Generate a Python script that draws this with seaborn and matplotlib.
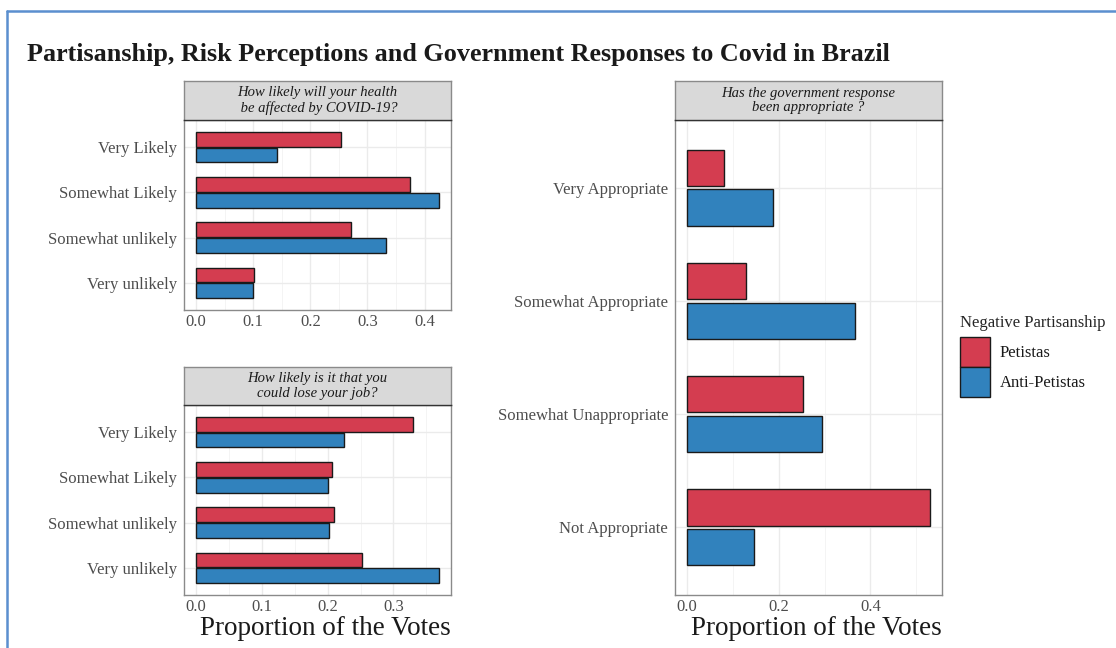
import pandas as pd
import seaborn as sns
import matplotlib.pyplot as plt
from matplotlib.patches import Patch
from matplotlib.lines import Line2D
from matplotlib.ticker import MultipleLocator

# data
groups = ["Petistas", "Anti-Petistas"]

health_levels = ["Very Likely", "Somewhat Likely", "Somewhat unlikely", "Very unlikely"]
health_petistas = [0.253, 0.374, 0.272, 0.102]
health_anti = [0.142, 0.425, 0.332, 0.100]

job_levels = ["Very Likely", "Somewhat Likely", "Somewhat unlikely", "Very unlikely"]
job_petistas = [0.329, 0.207, 0.209, 0.252]
job_anti = [0.225, 0.201, 0.202, 0.369]

gov_levels = ["Very Appropriate", "Somewhat Appropriate", "Somewhat Unappropriate", "Not Appropriate"]
gov_petistas = [0.081, 0.129, 0.254, 0.530]
gov_anti = [0.188, 0.367, 0.295, 0.145]

palette = {"Petistas": "#D43D50", "Anti-Petistas": "#3182BD"}


def make_df(levels, pet, anti):
    rows = []
    for lev, p, a in zip(levels, pet, anti):
        rows.append({"Answer": lev, "Group": "Petistas", "Proportion": p})
        rows.append({"Answer": lev, "Group": "Anti-Petistas", "Proportion": a})
    return pd.DataFrame(rows)


sns.set_style("white")
plt.rcParams["font.family"] = ["Liberation Serif", "DejaVu Serif"]

W, H = 1116, 648
fig = plt.figure(figsize=(W / 100, H / 100), dpi=100)


def box(x0, y0, x1, y1):
    return [x0 / W, 1 - y1 / H, (x1 - x0) / W, (y1 - y0) / H]


def panel(rect, strip_rect, df, levels, strip_text, step, xlabel):
    ax = fig.add_axes(rect)
    sns.barplot(data=df, y="Answer", x="Proportion", hue="Group", order=levels,
                hue_order=groups, palette=palette, orient="h", width=0.7, gap=0.08,
                edgecolor="#1a1a1a", linewidth=1.0, saturation=1, legend=False,
                errorbar=None, ax=ax)
    xmax = df["Proportion"].max()
    ax.set_xlim(-0.05 * xmax, 1.05 * xmax)
    n = len(levels)
    ax.set_ylim(n - 1 + 0.6, -0.6)
    ax.xaxis.set_major_locator(MultipleLocator(step))
    ax.xaxis.set_minor_locator(MultipleLocator(step / 2))
    ax.xaxis.set_major_formatter(plt.FuncFormatter(lambda v, p: f"{v:.1f}"))
    ax.grid(True, which="major", color="#ebebeb", linewidth=1.0)
    ax.grid(True, which="minor", axis="x", color="#f2f2f2", linewidth=0.6)
    ax.set_axisbelow(True)
    for s in ax.spines.values():
        s.set_color("#8a8a8a")
        s.set_linewidth(1.0)
    ax.tick_params(axis="both", which="major", length=3, width=0.8, color="#4d4d4d",
                   labelcolor="#4d4d4d", labelsize=12, pad=2)
    ax.tick_params(axis="x", which="major", pad=0.2)
    ax.tick_params(axis="x", which="minor", length=0)
    ax.set_ylabel("")
    if xlabel:
        ax.set_xlabel("Proportion of the Votes", fontsize=19.5, color="#1a1a1a", labelpad=0.5)
        ax.xaxis.label.set_x(0.5 + 8 / 267)
    else:
        ax.set_xlabel("")

    sax = fig.add_axes(strip_rect)
    sax.set_facecolor("#d9d9d9")
    sax.set_xticks([])
    sax.set_yticks([])
    for s in sax.spines.values():
        s.set_color("#8a8a8a")
        s.set_linewidth(1.0)
    sax.spines["bottom"].set_color("#333333")
    sax.text(0.5, 0.5, strip_text, ha="center", va="center", fontsize=10.5,
             style="italic", color="#1a1a1a", linespacing=1.15, transform=sax.transAxes)
    return ax


panel(box(184, 120, 451, 310), box(184, 81, 451, 120),
      make_df(health_levels, health_petistas, health_anti), health_levels,
      "How likely will your health\n be affected by COVID-19?", 0.1, False)
panel(box(184, 405, 451, 595), box(184, 367, 451, 405),
      make_df(job_levels, job_petistas, job_anti), job_levels,
      "How likely is it that you\ncould lose your job?", 0.1, True)
panel(box(675, 120, 942, 595), box(675, 81, 942, 120),
      make_df(gov_levels, gov_petistas, gov_anti), gov_levels,
      "Has the government response\nbeen appropriate ?", 0.2, True)

fig.text(27 / W, 1 - 54 / H, "Partisanship, Risk Perceptions and Government Responses to Covid in Brazil",
         fontsize=18.8, fontweight="bold", color="#1a1a1a", ha="left", va="center")

handles = [Patch(facecolor=palette[g], edgecolor="#1a1a1a", linewidth=1.0, label=g) for g in groups]
leg = fig.legend(handles=handles, title="Negative Partisanship", loc="upper left",
                 bbox_to_anchor=(957 / W, 1 - 312 / H), frameon=False, fontsize=12,
                 title_fontsize=12, handlelength=1.75, handleheight=2.4, handletextpad=0.6,
                 labelspacing=0.0, borderpad=0.2, borderaxespad=0)
leg._legend_box.align = "left"
leg._legend_box.sep = 4
for t in leg.get_texts():
    t.set_color("#1a1a1a")

# screenshot frame (top and left edge)
fig.add_artist(Line2D([7 / W, 7 / W], [0, 1 - 11 / H], color="#5b8fcf", linewidth=1.8))
fig.add_artist(Line2D([7 / W, 1], [1 - 11 / H, 1 - 11 / H], color="#5b8fcf", linewidth=1.8))

fig.savefig("out.png", dpi=100)
